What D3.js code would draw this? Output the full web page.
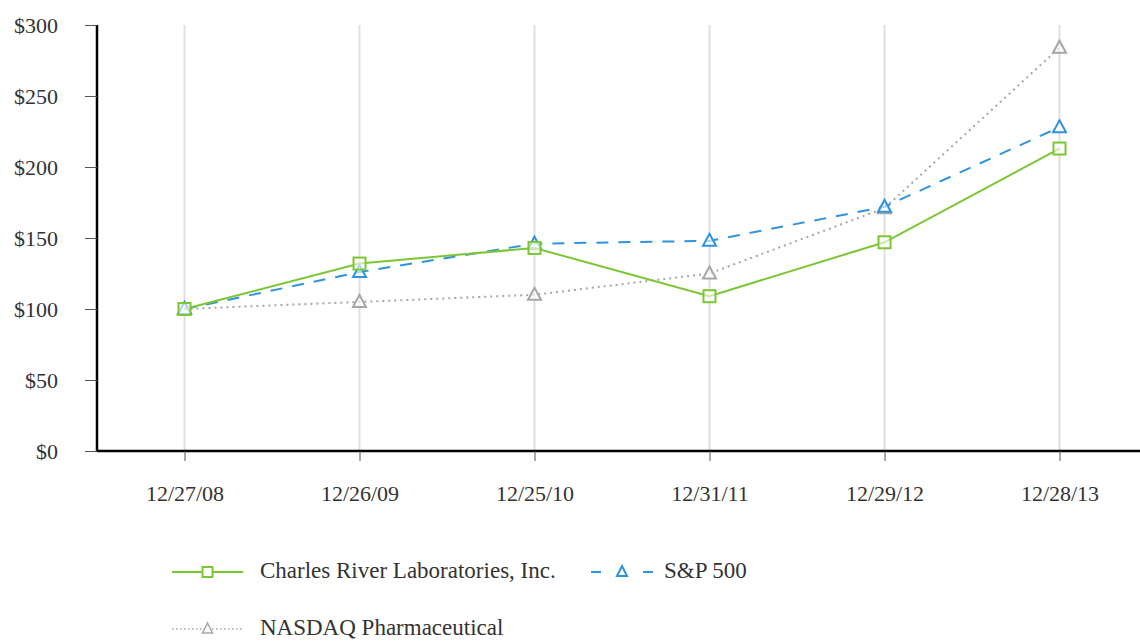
<!DOCTYPE html>
<html><head><meta charset="utf-8">
<script src="https://cdn.jsdelivr.net/npm/d3@7"></script>
<style>body{margin:0;background:#fff}svg{display:block}</style>
</head><body>
<svg id="c" width="1140" height="642"></svg>
<script>
const categories = ["12/27/08","12/26/09","12/25/10","12/31/11","12/29/12","12/28/13"];
const crl = [100,132,143,109,147,213];
const sp500 = [100,126,146,148,172,228];
const nasdaq = [100,105,110,125,171,284];
const yTicks = [0,50,100,150,200,250,300];
const seriesNames = ["Charles River Laboratories, Inc.","S&P 500","NASDAQ Pharmaceutical"];

(function(){
const svg = d3.select("#c");
const left = 97, topY = 25, bottomY = 451, step = 175;
const x = d3.scalePoint().domain(categories).range([left + step/2, left + step/2 + step*5]);
const y = d3.scaleLinear().domain([0,300]).range([bottomY, topY]);
const font = "'Liberation Serif','Times New Roman',serif";

// gridlines
svg.append("g").selectAll("line").data(categories).join("line")
  .attr("x1", d=>x(d)).attr("x2", d=>x(d)).attr("y1", topY).attr("y2", bottomY)
  .attr("stroke", "#e0e0e0").attr("stroke-width", 2);

// y axis
const ya = svg.append("g").attr("transform", `translate(${left},0)`)
  .call(d3.axisLeft(y).tickValues(yTicks).tickFormat(d=>"$"+d).tickSize(12).tickPadding(27));
ya.select(".domain").attr("stroke","#000").attr("stroke-width",2.5).attr("d", `M0,${topY}V${bottomY}`);
ya.selectAll(".tick line").attr("stroke","#555").attr("stroke-width",1);
ya.selectAll(".tick text").attr("font-family", font).attr("font-size", 22).attr("fill","#333");

// x axis
const xa = svg.append("g").attr("transform", `translate(0,${bottomY})`)
  .call(d3.axisBottom(x).tickSize(10).tickPadding(24));
xa.select(".domain").attr("stroke","#000").attr("stroke-width",2.5).attr("d", `M${left},0H1140`);
xa.selectAll(".tick line").attr("stroke","#555").attr("stroke-width",1);
xa.selectAll(".tick text").attr("font-family", font).attr("font-size", 22).attr("fill","#333");

const series = [
  {name: seriesNames[0], vals: crl, color:"#7cc633", dash:null, sym:"square", w:2},
  {name: seriesNames[1], vals: sp500, color:"#2f93e0", dash:"12,10", sym:"triangle", w:2},
  {name: seriesNames[2], vals: nasdaq, color:"#a6a6a6", dash:"2,4", sym:"triangle", w:2}
];
const line = d3.line().x((d,i)=>x(categories[i])).y(d=>y(d));

function marker(g, sym, color, cx, cy){
  if(sym==="square"){
    g.append("rect").attr("x",cx-6).attr("y",cy-6).attr("width",12).attr("height",12)
      .attr("fill","#fff").attr("fill-opacity",0.6).attr("stroke",color).attr("stroke-width",2);
  } else {
    g.append("path").attr("d",`M${cx},${cy-7}L${cx+6.5},${cy+5}L${cx-6.5},${cy+5}Z`)
      .attr("fill","#fff").attr("fill-opacity",0.6).attr("stroke",color).attr("stroke-width",2);
  }
}

[series[2], series[1], series[0]].forEach(s=>{
  const g = svg.append("g");
  g.append("path").datum(s.vals).attr("d", line).attr("fill","none")
    .attr("stroke", s.color).attr("stroke-width", s.w).attr("stroke-dasharray", s.dash);
  s.vals.forEach((v,i)=>marker(g, s.sym, s.color, x(categories[i]), y(v)));
});

// legend
const leg = [
  {s:series[0], lx:172, ly:572, tx:260},
  {s:series[1], lx:591, ly:572, tx:664},
  {s:series[2], lx:172, ly:629, tx:260}
];
leg.forEach(l=>{
  const g = svg.append("g");
  const x2 = l.s===series[1] ? l.lx+62 : l.lx+71;
  if(l.s===series[1]){
    g.append("line").attr("x1",l.lx).attr("x2",l.lx+10).attr("y1",l.ly).attr("y2",l.ly).attr("stroke",l.s.color).attr("stroke-width",2);
    g.append("line").attr("x1",l.lx+52).attr("x2",l.lx+62).attr("y1",l.ly).attr("y2",l.ly).attr("stroke",l.s.color).attr("stroke-width",2);
  } else {
    g.append("line").attr("x1",l.lx).attr("x2",x2).attr("y1",l.ly).attr("y2",l.ly)
      .attr("stroke",l.s.color).attr("stroke-width",l.s===series[2]?1.5:2).attr("stroke-dasharray",l.s===series[2]?"1.5,2.5":null);
  }
  const cx = (l.lx + x2)/2;
  if(l.s.sym==="square"){
    g.append("rect").attr("x",cx-5).attr("y",l.ly-5).attr("width",10).attr("height",10).attr("fill","#fff").attr("stroke",l.s.color).attr("stroke-width",2);
  } else {
    g.append("path").attr("d",`M${cx},${l.ly-6}L${cx+5},${l.ly+4}L${cx-5},${l.ly+4}Z`).attr("fill","#fff").attr("stroke",l.s.color).attr("stroke-width",l.s===series[2]?1.5:2);
  }
  g.append("text").attr("x",l.tx).attr("y",l.ly+6).attr("font-family",font).attr("font-size",23).attr("fill","#333").text(l.s.name);
});
})();
</script>
</body></html>
